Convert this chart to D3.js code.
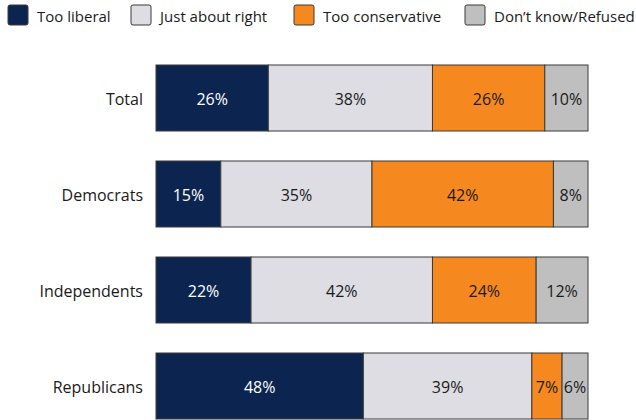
<!DOCTYPE html>
<html><head><meta charset="utf-8">
<script src="https://cdn.jsdelivr.net/npm/d3@7"></script>
<style>body{margin:0;background:#fff;}svg{display:block;font-family:"Open Sans",sans-serif;}</style>
</head><body><svg id="c" width="636" height="420"></svg>
<script>
const categories = ["Total", "Democrats", "Independents", "Republicans"];
const seriesNames = ["Too liberal", "Just about right", "Too conservative", "Don\u2019t know/Refused"];
const tooLiberal = [26, 15, 22, 48];
const justRight = [38, 35, 42, 39];
const tooConservative = [26, 42, 24, 7];
const dontKnow = [10, 8, 12, 6];
const colors = ["#0b2550", "#dddde3", "#f5891f", "#bfbfbf"];
const textColors = ["#ffffff", "#1a1a1a", "#1a1a1a", "#1a1a1a"];

const series = [tooLiberal, justRight, tooConservative, dontKnow];
const svg = d3.select("#c");
const x = d3.scaleLinear().domain([0, 100]).range([156, 588]);
const y = d3.scaleBand().domain(categories).range([65, 419]).paddingInner(0.3125).paddingOuter(0);

const rows = categories.map((c, i) => {
  let acc = 0;
  return series.map((s, k) => { const d = {cat: c, k, v: s[i], x0: acc, x1: acc + s[i]}; acc += s[i]; return d; });
});

const g = svg.append("g");
rows.forEach(r => {
  const rg = g.append("g");
  rg.selectAll("rect").data(r).join("rect")
    .attr("x", d => x(d.x0)).attr("y", d => y(d.cat))
    .attr("width", d => x(d.x1) - x(d.x0)).attr("height", y.bandwidth())
    .attr("fill", d => colors[d.k]).attr("stroke", "#3a3a3a").attr("stroke-width", 1);
  rg.selectAll("text").data(r).join("text")
    .attr("x", d => (x(d.x0) + x(d.x1)) / 2).attr("y", d => y(d.cat) + y.bandwidth() / 2 + 1)
    .attr("text-anchor", "middle").attr("dominant-baseline", "central")
    .attr("font-size", 16).attr("fill", d => textColors[d.k])
    .text(d => d.v + "%");
});

svg.append("g").selectAll("text").data(categories).join("text")
  .attr("x", 143).attr("y", d => y(d) + y.bandwidth() / 2 + 1)
  .attr("text-anchor", "end").attr("dominant-baseline", "central")
  .attr("font-size", 16).attr("fill", "#1a1a1a").text(d => d);

const legX = [8, 131, 294, 465];
const lg = svg.append("g").selectAll("g").data(seriesNames).join("g")
  .attr("transform", (d, i) => `translate(${legX[i]},5)`);
lg.append("rect").attr("width", 20).attr("height", 20).attr("rx", 2)
  .attr("fill", (d, i) => colors[i]).attr("stroke", "#3a3a3a");
lg.append("text").attr("x", 29).attr("y", 11).attr("dominant-baseline", "central")
  .attr("font-size", 15).attr("fill", "#1a1a1a").text(d => d);
</script></body></html>
